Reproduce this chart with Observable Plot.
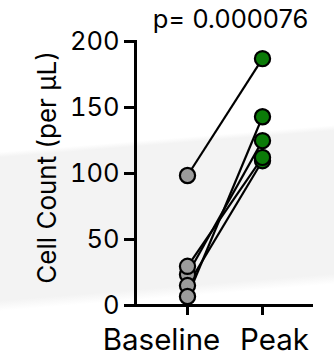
<!DOCTYPE html>
<html><head><meta charset="utf-8">
<script src="https://cdn.jsdelivr.net/npm/d3@7"></script>
<script src="https://cdn.jsdelivr.net/npm/@observablehq/plot@0.6"></script>
<style>
html,body{margin:0;padding:0;background:#fff;}
#wrap{position:relative;width:334px;height:357px;overflow:hidden;
 background:linear-gradient(175.4deg,#fff 0%,#fff 39.6%,#f3f3f3 41%,#f3f3f3 78.3%,#fff 81%,#fff 100%);}
</style></head><body><div id="wrap"></div>
<script>
const groups = ["Baseline", "Peak"];
// paired values (each subject: baseline -> peak), cells per µL
const baseline = [23.5, 15.1, 29.7, 6.8, 98.5];
const peak = [124.9, 109.7, 112.2, 143, 187];
const yTicks = [0, 50, 100, 150, 200];
const yLabel = "Cell Count (per μL)";
const pLabel = "p= 0.000076";

const subjects = baseline.map((b, i) => ({id: i, baseline: b, peak: peak[i]}));
const font = "Inter, 'Liberation Sans', Arial, sans-serif";

const chart = Plot.plot({
  width: 334, height: 357,
  marginLeft: 135, marginRight: 21, marginTop: 41, marginBottom: 52,
  style: {background: "transparent", fontFamily: font, color: "#000", overflow: "visible"},
  x: {type: "point", domain: groups, padding: 0.68, align: 0.5, label: null},
  y: {domain: [0, 200], label: null},
  marks: [
    Plot.ruleY([0], {stroke: "#000", strokeWidth: 3}),
    Plot.frame({anchor: "left", stroke: "#000", strokeWidth: 3}),
    Plot.axisY(yTicks, {tickSize: 11, tickPadding: 5, strokeWidth: 3, fontSize: 25.5, label: null, fill: "#000", stroke: "#000"}),
    Plot.axisX(groups, {tickSize: 10, strokeWidth: 3, tickFormat: () => "", label: null}),
    Plot.axisX(["Baseline"], {tickSize: 0, tickPadding: 24, dx: -26, fontSize: 29.5, label: null, fill: "#000"}),
    Plot.axisX(["Peak"], {tickSize: 0, tickPadding: 24, dx: 12, fontSize: 29.5, label: null, fill: "#000"}),
    Plot.link(subjects, {x1: () => "Baseline", y1: "baseline", x2: () => "Peak", y2: "peak", stroke: "#000", strokeWidth: 2.2}),
    Plot.dot(subjects, {x: () => "Baseline", y: "baseline", r: 7.6, fill: "#9b9b9b", stroke: "#000", strokeWidth: 2.2}),
    Plot.dot(subjects, {x: () => "Peak", y: "peak", r: 7.6, fill: "#0b7b08", stroke: "#000", strokeWidth: 2.2}),
    Plot.text([yLabel], {frameAnchor: "left", textAnchor: "middle", rotate: -90, dx: -80, dy: -6, lineAnchor: "bottom", fontSize: 26, fill: "#000"}),
    Plot.text([pLabel], {frameAnchor: "top", textAnchor: "middle", dx: 6, dy: -14, lineAnchor: "bottom", fontSize: 25.5, fill: "#000"})
  ]
});
document.getElementById("wrap").appendChild(chart);
</script>
</body></html>
